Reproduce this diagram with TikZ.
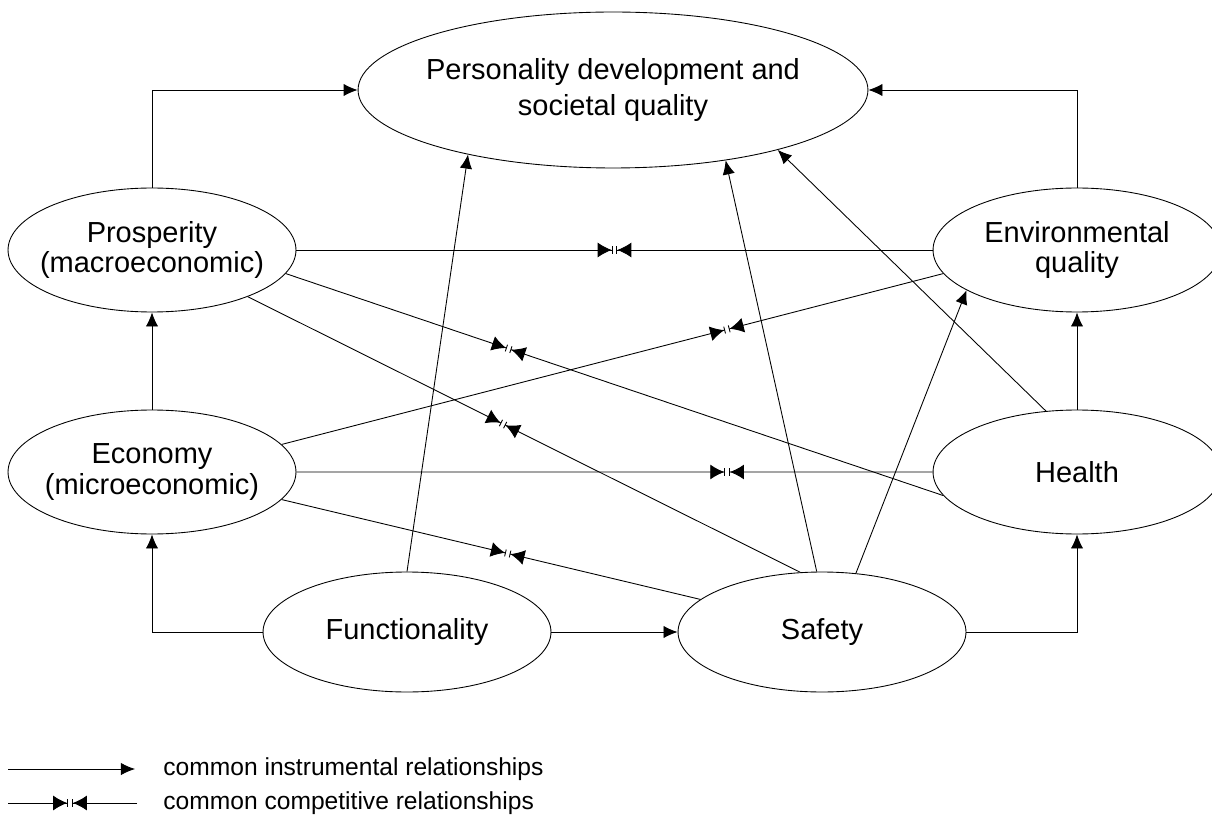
\documentclass[tikz,border=0pt]{standalone}
\usepackage{fontspec}
\setmainfont{Liberation Sans}
\usetikzlibrary{arrows.meta,shapes.geometric,calc}

\begin{document}
\begin{tikzpicture}[x=0.02cm,y=-0.02cm,line width=0.5pt,
	area/.style={ellipse,draw,inner xsep=-0.6cm,align=center,minimum width=5.76cm,minimum height=2.48cm,font=\fontsize{16.5}{17.5}\selectfont},
	goal/.style={area,minimum width=10.2cm,minimum height=3.12cm,font=\fontsize{16.5}{20}\selectfont},
	base/.style={area,minimum height=2.4cm},
	key/.style={anchor=west,inner sep=0pt,font=\fontsize{14}{16}\selectfont},
	inst/.style={-{Latex[length=8pt,width=7pt]}},
	comp/.style={-{Latex[length=8pt,width=8.5pt,sep=0pt]Bar[width=4pt,sep=0pt]},shorten >=1.1pt}]
	
	\useasboundingbox (0,0) rectangle (1212,820);
	
	\node[goal] (pers) at (613,90) {Personality development and\\societal quality};
	\node[area] (pros) at (152,250) {Prosperity\\(macroeconomic)};
	\node[area] (env) at (1077,250) {Environmental\\quality};
	\node[area] (econ) at (152,472) {Economy\\(microeconomic)};
	\node[area] (hlth) at (1077,472) {Health};
	\node[base] (fnct) at (407,632) {Functionality};
	\node[base] (sfty) at (822,632) {Safety};
	
	% instrumental
	\draw[inst] (pros.north) |- (pers.west);
	\draw[inst] (env.north) |- (pers.east);
	\draw[inst] (econ) -- (pros);
	\draw[inst] (hlth) -- (env);
	\draw[inst] (fnct.west) -| (econ.south);
	\draw[inst] (sfty.east) -| (hlth.south);
	\draw[inst] (fnct) -- (sfty);
	\draw[inst] (fnct.north) -- (pers.204);
	\draw[inst] (sfty.95) -- (pers.-32);
	\draw[inst] (sfty.60) -- (env.200.6);
	\draw[inst] (hlth.117) -- (pers.-20.4);
	
	% competitive
	\coordinate (m1) at ($(pros.east)!0.5!(env.west)$);
	\draw[comp] (pros.east) -- (m1);
	\draw[comp] (env.west) -- (m1);
	\coordinate (m2) at ($(pros.-10)!0.339!(hlth.190)$);
	\draw[comp] (pros.-10) -- (m2);
	\draw[comp] (hlth.190) -- (m2);
	\coordinate (m3) at ($(econ.12.9)!0.673!(env.190.7)$);
	\draw[comp] (econ.12.9) -- (m3);
	\draw[comp] (env.190.7) -- (m3);
	\coordinate (m4) at ($(pros.-26.6)!0.462!(sfty.110.4)$);
	\draw[comp] (pros.-26.6) -- (m4);
	\draw[comp] (sfty.110.4) -- (m4);
	\coordinate (m5) at ($(econ.east)!0.677!(hlth.west)$);
	\draw[comp] (econ.east) -- (m5);
	\draw[comp] (hlth.west) -- (m5);
	\coordinate (m6) at ($(econ.-12.9)!0.54!(sfty.165.6)$);
	\draw[comp] (econ.-12.9) -- (m6);
	\draw[comp] (sfty.165.6) -- (m6);
	
	% key
	\coordinate (k1a) at (8,769);
	\coordinate (k1b) at (135,769);
	\draw[inst] (k1a) -- (k1b);
	\node[key] (k1) at (163,769) {common instrumental relationships};
	\coordinate (k2a) at (8,803);
	\coordinate (k2b) at (137,803);
	\coordinate (k2m) at (70,803);
	\draw[comp] (k2a) -- (k2m);
	\draw[comp] (k2b) -- (k2m);
	\node[key] (k2) at (163,803) {common competitive relationships};
\end{tikzpicture}
\end{document}
